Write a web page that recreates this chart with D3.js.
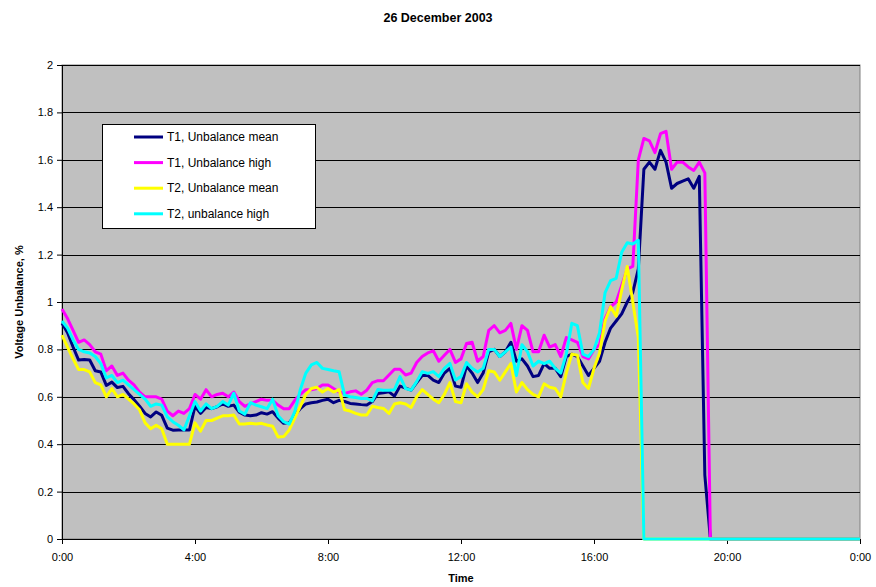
<!DOCTYPE html>
<html><head><meta charset="utf-8">
<script src="https://cdn.jsdelivr.net/npm/d3@7/dist/d3.min.js"></script>
<style>body{margin:0;background:#fff}svg{display:block}text{font-family:"Liberation Sans",Arial,sans-serif}</style>
</head><body><svg id="c" width="876" height="587"></svg>
<script>
// minutes since 0:00, every 10 minutes from 0:00 to 24:00
const times = d3.range(0, 1441, 10);
const xTickMinutes = [0, 240, 480, 720, 960, 1200, 1440];
const xTickLabels = ["0:00","4:00","8:00","12:00","16:00","20:00","0:00"];
const yTicks = [0,0.2,0.4,0.6,0.8,1,1.2,1.4,1.6,1.8,2];
const seriesNames = ["T1, Unbalance mean","T1, Unbalance high","T2, Unbalance mean","T2, unbalance high"];
const seriesColors = ["#000080","#FF00FF","#FFFF00","#00FFFF"];

const t1Mean = [
0.91,0.87,0.81,0.755,0.757,0.755,
0.71,0.705,0.648,0.662,0.639,0.644,
0.613,0.588,0.56,0.53,0.515,0.536,
0.522,0.468,0.459,0.46,0.46,0.46,
0.56,0.53,0.555,0.55,0.558,0.57,
0.56,0.565,0.535,0.523,0.52,0.523,
0.533,0.527,0.537,0.51,0.488,0.49,
0.523,0.55,0.57,0.575,0.578,0.585,
0.59,0.575,0.585,0.58,0.572,0.57,
0.567,0.565,0.58,0.614,0.617,0.621,
0.603,0.645,0.637,0.628,0.66,0.69,
0.69,0.67,0.66,0.70,0.72,0.645,
0.64,0.73,0.70,0.66,0.70,0.79,
0.80,0.77,0.79,0.83,0.75,0.76,
0.73,0.685,0.69,0.74,0.72,0.72,
0.685,0.77,0.78,0.77,0.73,0.69,
0.72,0.75,0.83,0.89,0.92,0.95,
1.00,1.04,1.14,1.56,1.59,1.56,
1.64,1.59,1.48,1.50,1.51,1.52,
1.48,1.53,0.27,0,0,0,
0,0,0,0,0,0,
0,0,0,0,0,0,
0,0,0,0,0,0,
0,0,0,0,0,0,
0];
const t1High = [
0.97,0.93,0.88,0.83,0.84,0.82,
0.79,0.78,0.71,0.73,0.69,0.70,
0.67,0.65,0.62,0.60,0.60,0.60,
0.59,0.54,0.52,0.54,0.53,0.55,
0.61,0.59,0.63,0.60,0.61,0.615,
0.60,0.62,0.58,0.56,0.57,0.58,
0.59,0.585,0.585,0.565,0.55,0.55,
0.585,0.61,0.63,0.63,0.635,0.65,
0.65,0.635,0.62,0.614,0.621,0.625,
0.611,0.628,0.66,0.668,0.668,0.692,
0.716,0.716,0.692,0.70,0.745,0.77,
0.785,0.794,0.75,0.775,0.80,0.745,
0.76,0.825,0.83,0.75,0.77,0.88,
0.90,0.87,0.88,0.91,0.80,0.90,
0.88,0.79,0.79,0.86,0.81,0.82,
0.77,0.85,0.84,0.83,0.77,0.76,
0.80,0.82,0.93,0.98,1.00,1.07,
1.14,1.15,1.60,1.69,1.68,1.63,
1.71,1.72,1.56,1.59,1.59,1.57,
1.555,1.59,1.545,0,0,0,
0,0,0,0,0,0,
0,0,0,0,0,0,
0,0,0,0,0,0,
0,0,0,0,0,0,
0];
const t2Mean = [
0.86,0.81,0.76,0.715,0.715,0.705,
0.66,0.65,0.60,0.635,0.60,0.61,
0.59,0.57,0.545,0.49,0.465,0.48,
0.465,0.40,0.40,0.40,0.40,0.40,
0.49,0.455,0.50,0.50,0.51,0.52,
0.52,0.523,0.485,0.485,0.488,0.485,
0.488,0.481,0.476,0.43,0.432,0.46,
0.51,0.56,0.61,0.635,0.64,0.62,
0.635,0.62,0.63,0.545,0.54,0.53,
0.523,0.523,0.56,0.555,0.551,0.53,
0.57,0.575,0.57,0.555,0.60,0.63,
0.61,0.59,0.575,0.61,0.66,0.58,
0.575,0.655,0.62,0.60,0.63,0.71,
0.705,0.67,0.705,0.74,0.62,0.66,
0.63,0.61,0.60,0.655,0.64,0.635,
0.60,0.70,0.78,0.775,0.66,0.635,
0.72,0.785,0.92,0.98,0.94,1.05,
1.15,1.00,0.85,0,0,0,
0,0,0,0,0,0,
0,0,0,0,0,0,
0,0,0,0,0,0,
0,0,0,0,0,0,
0,0,0,0,0,0,
0,0,0,0,0,0,
0];
const t2High = [
0.92,0.89,0.84,0.80,0.79,0.785,
0.77,0.74,0.68,0.69,0.66,0.67,
0.65,0.63,0.61,0.59,0.56,0.57,
0.565,0.515,0.495,0.48,0.46,0.52,
0.58,0.54,0.57,0.55,0.56,0.58,
0.565,0.615,0.54,0.527,0.575,0.565,
0.558,0.55,0.59,0.52,0.495,0.485,
0.537,0.63,0.70,0.735,0.745,0.72,
0.715,0.71,0.706,0.607,0.60,0.597,
0.593,0.593,0.583,0.631,0.628,0.628,
0.63,0.685,0.635,0.628,0.664,0.706,
0.699,0.706,0.685,0.72,0.741,0.671,
0.685,0.745,0.72,0.705,0.72,0.80,
0.80,0.77,0.79,0.81,0.69,0.82,
0.79,0.73,0.75,0.74,0.75,0.72,
0.70,0.78,0.91,0.90,0.78,0.77,
0.80,0.87,1.04,1.09,1.10,1.21,
1.25,1.245,1.26,0,0,0,
0,0,0,0,0,0,
0,0,0,0,0,0,
0,0,0,0,0,0,
0,0,0,0,0,0,
0,0,0,0,0,0,
0,0,0,0,0,0,
0];
const allSeries = [t1Mean, t1High, t2Mean, t2High];

const svg = d3.select("#c");
const L = 62, R = 860, T = 65, B = 539;
const x = d3.scaleLinear().domain([0, 1440]).range([L, R]);
const y = d3.scaleLinear().domain([0, 2]).range([B, T]);

svg.append("rect").attr("x", L).attr("y", T).attr("width", R - L).attr("height", B - T)
  .attr("fill", "#C0C0C0").attr("stroke", "#808080").attr("stroke-width", 1);

// gridlines
svg.append("g").selectAll("line").data(yTicks.filter(d => d > 0)).join("line")
  .attr("x1", L).attr("x2", R).attr("y1", d => Math.round(y(d)) + 0.5).attr("y2", d => Math.round(y(d)) + 0.5)
  .attr("stroke", "#000").attr("stroke-width", 1);

// y axis
const yAxis = d3.axisLeft(y).tickValues(yTicks).tickSize(5).tickPadding(4).tickFormat(d3.format("~g"));
const gy = svg.append("g").attr("transform", `translate(${L},0)`).call(yAxis);
gy.selectAll("text").attr("font-size", 11).attr("fill", "#000");
gy.selectAll("line,path").attr("stroke", "#000");

// x axis
const xAxis = d3.axisBottom(x).tickValues(xTickMinutes).tickSize(5).tickPadding(9)
  .tickFormat((d, i) => xTickLabels[i]);
const gx = svg.append("g").attr("transform", `translate(0,${B})`).call(xAxis);
gx.selectAll("text").attr("font-size", 11).attr("fill", "#000");
gx.selectAll("line,path").attr("stroke", "#000");

// lines
const line = d3.line().x((d, i) => x(times[i])).y(d => y(d));
allSeries.forEach((s, k) => {
  svg.append("path").datum(s).attr("d", line).attr("fill", "none")
    .attr("stroke", seriesColors[k]).attr("stroke-width", 3).attr("stroke-linejoin", "round");
});

// titles
svg.append("text").attr("x", 438).attr("y", 22).attr("text-anchor", "middle")
  .attr("font-size", 12.5).attr("font-weight", "bold").text("26 December 2003");
svg.append("text").attr("x", 461).attr("y", 582).attr("text-anchor", "middle")
  .attr("font-size", 11).attr("font-weight", "bold").text("Time");
svg.append("text").attr("transform", `translate(23,${(T + B) / 2}) rotate(-90)`).attr("text-anchor", "middle")
  .attr("font-size", 11).attr("font-weight", "bold").text("Voltage Unbalance, %");

// legend
const lg = svg.append("g");
lg.append("rect").attr("x", 102.5).attr("y", 124.5).attr("width", 213).attr("height", 104)
  .attr("fill", "#fff").attr("stroke", "#000").attr("stroke-width", 1);
seriesNames.forEach((n, k) => {
  const yy = 137 + k * 25.6;
  lg.append("line").attr("x1", 134).attr("x2", 163).attr("y1", yy).attr("y2", yy)
    .attr("stroke", seriesColors[k]).attr("stroke-width", 3);
  lg.append("text").attr("x", 167).attr("y", yy + 4).attr("font-size", 12).text(n);
});
</script></body></html>
